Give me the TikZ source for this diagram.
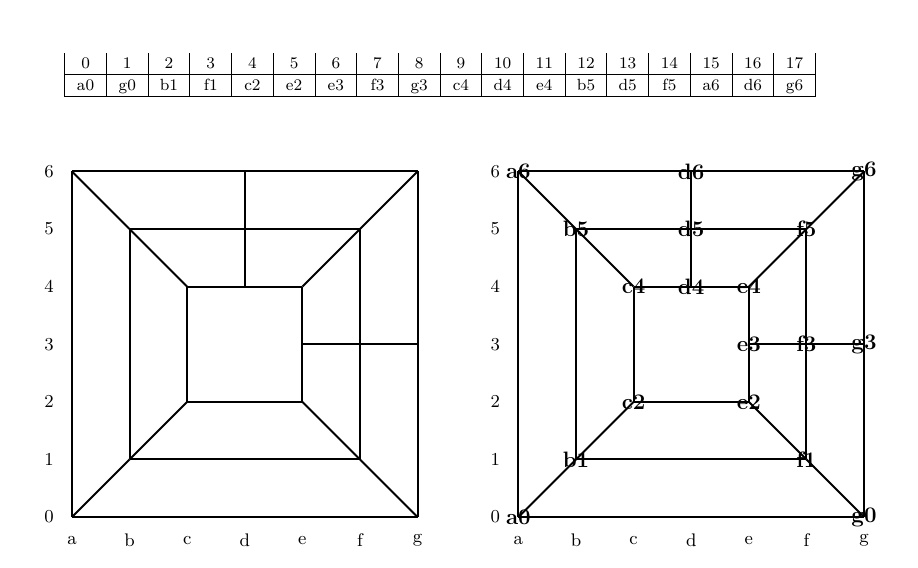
\documentclass[tikz,border=0pt]{standalone}
\usepackage{amsmath, amssymb}
\usepackage{xcolor}
\usepackage{array}
\usepackage{tikz}

\tikzset{
    edge/.style={line width=0.95pt},
    vlabel/.style={font=\fontsize{11}{13}\selectfont\bfseries, inner sep=1pt},
    axislabel/.style={font=\small},
}

\begin{document}
\begin{tikzpicture}
            \useasboundingbox (-1.25,-0.868) rectangle (14.6875,8.976);

            % order of the vertices
            \node[inner sep=0pt] (order) at (6.39,7.67) {\footnotesize
                \renewcommand\arraystretch{1.1}\setlength\tabcolsep{5.6pt}%
                \begin{tabular}{|*{18}{>{\centering\arraybackslash}p{9pt}|}}
                    0 & 1 & 2 & 3 & 4 & 5 & 6 & 7 & 8 & 9 & 10 & 11 & 12 & 13 & 14 & 15 & 16 & 17 \\ \hline
                    a0 & g0 & b1 & f1 & c2 & e2 & e3 & f3 & g3 & c4 & d4 & e4 & b5 & d5 & f5 & a6 & d6 & g6 \\ \hline
                \end{tabular}};

            % vertices, left copy (L) and right copy (R)
            \foreach \v/\x/\y in {a0/0/0, g0/6/0, b1/1/1, f1/5/1, c2/2/2, e2/4/2,
                                  e3/4/3, f3/5/3, g3/6/3, c4/2/4, d4/3/4, e4/4/4,
                                  b5/1/5, d5/3/5, f5/5/5, a6/0/6, d6/3/6, g6/6/6} {
                \coordinate (L\v) at (\x,\y);
                \coordinate (R\v) at (\x+7.75,\y);
            }

            % axis labels
            \foreach \c [count=\i from 0] in {a,b,c,d,e,f,g} {
                \node[axislabel] (Lx\c) at (\i,-0.4) {\c};
                \node[axislabel] (Rx\c) at (\i+7.75,-0.4) {\c};
            }
            \foreach \i in {0,...,6} {
                \node[axislabel] (Ly\i) at (-0.4,\i) {\i};
                \node[axislabel] (Ry\i) at (7.35,\i) {\i};
            }

            % edges
            \foreach \u/\v in {a0/g0, a0/a6, a6/d6, d6/g6, g6/g3, g3/g0,
                               a0/b1, b1/c2, g0/f1, f1/e2, a6/b5, b5/c4, g6/f5, f5/e4,
                               b1/f1, b1/b5, b5/d5, d5/f5, f5/f3, f3/f1,
                               c2/e2, c2/c4, c4/d4, d4/e4, e4/e3, e3/e2,
                               d4/d5, d5/d6, e3/f3, f3/g3} {
                \draw[edge] (L\u) -- (L\v);
                \draw[edge] (R\u) -- (R\v);
            }

            % names on the right copy
            \foreach \v in {a0, g0, b1, f1, c2, e2, e3, f3, g3,
                            c4, d4, e4, b5, d5, f5, a6, d6, g6} {
                \node[vlabel] (name\v) at (R\v) {\v};
            }
        \end{tikzpicture}
\end{document}
